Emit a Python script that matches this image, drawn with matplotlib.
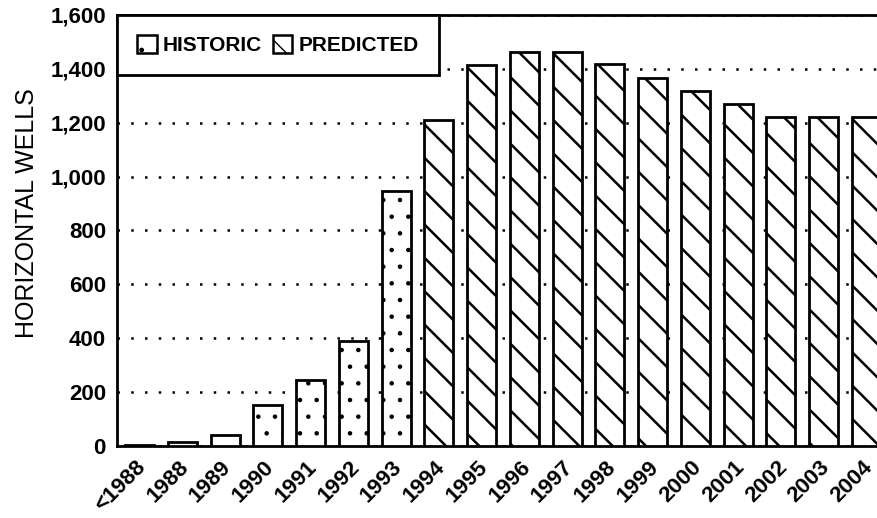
import numpy as np
import matplotlib
matplotlib.use("Agg")
import matplotlib.pyplot as plt
from matplotlib.patches import Patch
from matplotlib.transforms import ScaledTranslation

plt.rcParams['font.family'] = ['Liberation Sans', 'DejaVu Sans']

# horizontal wells drilled per year (historic up to 1993, predicted after)
years = ['<1988', '1988', '1989', '1990', '1991', '1992', '1993', '1994', '1995',
         '1996', '1997', '1998', '1999', '2000', '2001', '2002', '2003', '2004']
wells = [3, 15, 40, 152, 245, 388, 946, 1210, 1415,
         1463, 1463, 1417, 1365, 1317, 1268, 1222, 1223, 1223]
n_historic = 7

yticks = [0, 200, 400, 600, 800, 1000, 1200, 1400, 1600]

fig = plt.figure(figsize=(8.78, 5.18), dpi=100)
ax = fig.add_axes([117/878, 1 - 446/518, 1 - 117/878, (446 - 15)/518])

x = np.arange(len(years))
for i in range(len(years)):
    if i < n_historic:
        hatch, hlw = '.', 0.8
    else:
        hatch, hlw = '\\', 1.8
    with plt.rc_context({'hatch.linewidth': hlw}):
        b = ax.bar(x[i], wells[i], width=0.68, color='white', edgecolor='black',
                   linewidth=2, hatch=hatch, zorder=3)
        p = b.patches[0]
        if hasattr(p, 'set_hatch_linewidth'):
            p.set_hatch_linewidth(hlw)

ax.set_xlim(-0.53, 17.27)
ax.set_ylim(0, 1600)
ax.set_yticks(yticks)
ax.set_yticklabels([f'{v:,}' for v in yticks], fontsize=16, fontweight='bold')
ax.set_xticks(x)
ax.set_xticklabels(years, fontsize=16, fontweight='bold', rotation=45, ha='right',
                   rotation_mode='anchor', va='center')
ax.tick_params(axis='both', length=0)
ax.tick_params(axis='y', pad=8)
ax.tick_params(axis='x', pad=13)
shift = ScaledTranslation(3/100, 0, fig.dpi_scale_trans)
for lab in ax.get_xticklabels():
    lab.set_transform(lab.get_transform() + shift)

ax.yaxis.grid(True, color='black', linewidth=1.8, linestyle=(0, (1, 4.5)))
ax.set_axisbelow(True)

for s in ['left', 'bottom', 'top']:
    ax.spines[s].set_linewidth(2)
ax.spines['right'].set_visible(False)

ax.set_ylabel('HORIZONTAL WELLS', fontsize=18)
ax.yaxis.set_label_coords(-0.103, 0.54)

with plt.rc_context({'hatch.linewidth': 1.5}):
    handles = [Patch(facecolor='white', edgecolor='black', hatch='.', linewidth=1.8, label='HISTORIC'),
               Patch(facecolor='white', edgecolor='black', hatch='\\', linewidth=1.8, label='PREDICTED')]
leg = ax.legend(handles=handles, loc='upper left', ncol=2,
                prop={'size': 15, 'weight': 'bold'},
                borderaxespad=0, handlelength=0.95, handleheight=0.95,
                handletextpad=0.3, columnspacing=0.5, borderpad=0.95,
                fancybox=False, framealpha=1, edgecolor='black')
leg.get_frame().set_linewidth(2)
leg.set_zorder(5)

fig.savefig('out.png', dpi=100)
